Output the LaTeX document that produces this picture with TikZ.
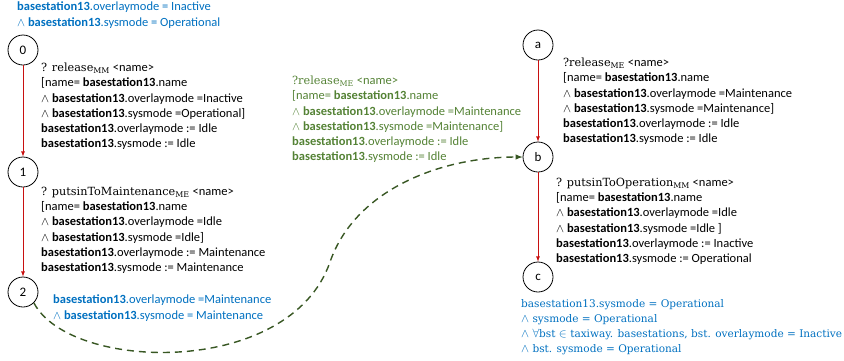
\documentclass[tikz,border=0pt]{standalone}
\usepackage{fontspec}
\setmainfont{Carlito}
\newfontfamily\cambria[Scale=0.9]{DejaVu Serif}
\usetikzlibrary{positioning,calc}
\definecolor{bsblue}{RGB}{0,112,192}
\definecolor{bsgreen}{RGB}{84,130,53}
\definecolor{dashgreen}{RGB}{56,87,35}
\definecolor{trred}{RGB}{200,16,16}
\newcommand{\bst}{\textbf{basestation13}}
\newcommand{\evt}[2]{{\cambria #1}\textsubscript{\cambria #2}}
\newcommand{\wedgeop}{$\wedge$}

\begin{document}
\begin{tikzpicture}[x=1pt,y=-1pt,
    state/.style={circle, draw, thick, minimum size=30pt, inner sep=0pt, font=\fontsize{13}{15}\selectfont},
    guard/.style={anchor=north west, inner sep=0pt, align=left, font=\fontsize{12.5}{15.2}\selectfont},
    trans/.style={-latex, trred, thick}]
    \useasboundingbox (0,0) rectangle (844,360);

    % States
    \node[state] (s0) at (23,50) {0};
    \node[state] (s1) at (23,172) {1};
    \node[state] (s2) at (23,292) {2};
    \node[state] (sa) at (538,45) {a};
    \node[state] (sb) at (538,157) {b};
    \node[state] (sc) at (538,277) {c};

    % Transitions
    \draw[trans] (s0) -- (s1);
    \draw[trans] (s1) -- (s2);
    \draw[trans] (sa) -- (sb);
    \draw[trans] (sb) -- (sc);

    % Link from 2 to b
    \coordinate (bend) at (330,262);
    \draw[-latex, dashgreen, line width=1.4pt, dash pattern=on 7pt off 5pt]
        (s2.-45) .. controls (70,372) and (290,378) .. (bend)
        .. controls (355,190) and (440,157) .. (sb.west);

    % Conditions
    \node[guard, bsblue] (init) at (17,2) {\bst.overlaymode = Inactive\\
        \wedgeop\ \bst.sysmode = Operational};
    \node[guard, bsblue] (cond2) at (53,295) {\bst.overlaymode =Maintenance\\
        \wedgeop\ \bst.sysmode = Maintenance};
    \node[guard, bsblue, font=\cambria\fontsize{11.7}{15}\selectfont] (condc) at (521,299) {basestation13.sysmode = Operational\\
        $\wedge$ sysmode = Operational\\
        $\wedge$ $\forall$bst $\in$ taxiway. basestations, bst. overlaymode = Inactive\\
        $\wedge$ bst. sysmode = Operational};

    % Transition labels
    \node[guard] (t01) at (41,63) {\evt{? release}{MM} <name>\\
        {[}name= \bst.name\\
        \wedgeop\ \bst.overlaymode =Inactive\\
        \wedgeop\ \bst.sysmode =Operational]\\
        \bst.overlaymode := Idle\\
        \bst.sysmode := Idle};
    \node[guard] (t12) at (41,187) {\evt{? putsinToMaintenance}{ME} <name>\\
        {[}name= \bst.name\\
        \wedgeop\ \bst.overlaymode =Idle\\
        \wedgeop\ \bst.sysmode =Idle]\\
        \bst.overlaymode := Maintenance\\
        \bst.sysmode := Maintenance};
    \node[guard, bsgreen] (t2b) at (292,76) {\evt{?release}{ME} <name>\\
        {[}name= \bst.name\\
        \wedgeop\ \bst.overlaymode =Maintenance\\
        \wedgeop\ \bst.sysmode =Maintenance]\\
        \bst.overlaymode := Idle\\
        \bst.sysmode := Idle};
    \node[guard] (tab) at (563,58) {\evt{?release}{ME} <name>\\
        {[}name= \bst.name\\
        \wedgeop\ \bst.overlaymode =Maintenance\\
        \wedgeop\ \bst.sysmode =Maintenance]\\
        \bst.overlaymode := Idle\\
        \bst.sysmode := Idle};
    \node[guard] (tbc) at (556,178) {\evt{? putsinToOperation}{MM} <name>\\
        {[}name= \bst.name\\
        \wedgeop\ \bst.overlaymode =Idle\\
        \wedgeop\ \bst.sysmode =Idle ]\\
        \bst.overlaymode := Inactive\\
        \bst.sysmode := Operational};
\end{tikzpicture}
\end{document}
